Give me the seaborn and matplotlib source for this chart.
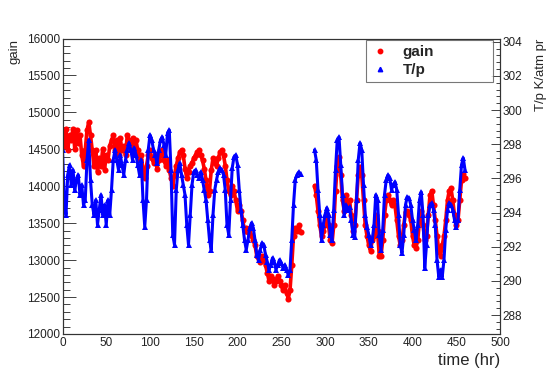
import numpy as np
import pandas as pd
import matplotlib
matplotlib.use("Agg")
import matplotlib.pyplot as plt
import seaborn as sns
from matplotlib.lines import Line2D
from matplotlib.ticker import MultipleLocator

# sampling times (hr), two runs with a gap in between
time_run1 = np.arange(0, 274, 2)
time_run2 = np.arange(288, 462, 2)

# gain
gain_run1 = [
    14760, 14550, 14780, 14490, 14690, 14620, 14780, 14510, 14760, 14590,
    14690, 14420, 14280, 14490, 14760, 14870, 14690, 14490, 14280, 14490,
    14190, 14380, 14280, 14510, 14220, 14420, 14350, 14550, 14620, 14690,
    14490, 14620, 14420, 14650, 14490, 14550, 14420, 14690, 14620, 14510,
    14650, 14550, 14620, 14490, 14350, 14420, 14220, 14110, 14280, 14420,
    14490, 14380, 14320, 14420, 14240, 14350, 14420, 14490, 14350, 14280,
    14350, 14220, 14110, 14010, 14150, 14280, 14380, 14460, 14490, 14420,
    14240, 14110, 14190, 14280, 14320, 14380, 14420, 14460, 14490, 14420,
    14350, 14240, 14080, 13880, 13940, 14220, 14380, 14320, 14280, 14380,
    14460, 14490, 14420, 14280, 14080, 13940, 13880, 14010, 13940, 13810,
    13670, 13740, 13670, 13540, 13400, 13440, 13380, 13430, 13330, 13270,
    13200, 13060, 13020, 12970, 13060, 13020, 12930, 12830, 12720, 12790,
    12750, 12660, 12720, 12790, 12720, 12660, 12590, 12660, 12560, 12480,
    12590, 12930, 13330, 13430, 13400, 13470, 13380,
]
gain_run2 = [
    14010, 13880, 13670, 13470, 13330, 13400, 13470, 13610, 13470, 13270,
    13230, 13470, 13940, 14280, 14390, 14150, 13810, 13670, 13880, 13740,
    13810, 13610, 13400, 13470, 13810, 14150, 14260, 14150, 13810, 13470,
    13330, 13200, 13130, 13270, 13330, 13610, 13400, 13060, 13060, 13270,
    13610, 13810, 13880, 13810, 13740, 13810, 13740, 13540, 13330, 13200,
    13270, 13470, 13650, 13670, 13610, 13540, 13330, 13200, 13170, 13270,
    13540, 13670, 13470, 13270, 13330, 13610, 13880, 13940, 13740, 13540,
    13330, 13130, 13060, 13200, 13330, 13540, 13810, 13940, 13970, 13810,
    13610, 13470, 13540, 13810, 14080, 14170, 14110,
]

# T/p in K/atm
tp_run1 = [
    297.67, 294.74, 293.87, 296.21, 296.79, 295.62, 296.50, 295.33, 295.91, 296.21,
    295.04, 295.62, 294.45, 294.74, 297.08, 298.25, 295.91, 294.45, 293.87, 294.74,
    293.28, 294.16, 295.04, 293.87, 294.45, 293.28, 294.74, 293.87, 295.33, 297.08,
    297.67, 297.08, 296.50, 297.38, 296.79, 296.21, 297.08, 297.67, 298.08, 297.67,
    297.08, 297.79, 297.38, 296.79, 296.21, 297.08, 294.74, 293.17, 294.74, 297.67,
    298.55, 298.25, 297.67, 297.38, 296.91, 297.67, 298.25, 298.43, 297.96, 297.38,
    298.66, 298.84, 296.50, 292.70, 292.11, 295.33, 296.50, 296.91, 296.21, 295.62,
    295.04, 293.28, 292.11, 293.87, 295.62, 296.38, 296.50, 296.21, 296.03, 296.38,
    295.91, 295.33, 294.74, 293.57, 292.40, 291.82, 293.87, 295.33, 295.91, 296.38,
    296.62, 296.50, 296.21, 295.33, 293.28, 292.70, 294.74, 296.62, 297.26, 297.38,
    296.79, 295.33, 294.16, 293.28, 292.40, 291.82, 292.40, 293.11, 293.40, 293.11,
    292.40, 291.53, 291.24, 291.82, 292.23, 292.11, 291.53, 291.12, 290.65, 290.94,
    291.35, 291.12, 290.65, 290.94, 291.24, 291.06, 290.77, 290.94, 290.65, 290.36,
    290.65, 292.40, 294.45, 295.91, 296.21, 296.38, 296.26,
]
tp_run2 = [
    297.67, 297.08, 295.33, 293.87, 292.40, 293.28, 293.87, 294.28, 293.87, 292.70,
    292.40, 294.16, 296.50, 298.25, 298.43, 296.79, 295.04, 293.87, 294.45, 294.16,
    294.33, 293.57, 292.70, 292.58, 294.74, 297.08, 298.08, 297.67, 295.62, 293.87,
    293.17, 292.70, 292.11, 292.40, 293.28, 295.04, 294.74, 292.70, 291.82, 292.99,
    295.04, 295.91, 296.21, 296.03, 295.33, 295.62, 295.80, 295.33, 293.87, 292.11,
    291.64, 292.70, 294.45, 294.92, 294.86, 294.45, 293.57, 292.99, 292.40, 293.28,
    294.74, 295.21, 293.87, 290.77, 292.11, 293.87, 294.45, 294.57, 294.16, 293.28,
    291.24, 290.24, 290.65, 290.24, 291.24, 292.99, 294.16, 294.57, 294.45, 294.16,
    293.57, 293.17, 293.57, 295.33, 296.79, 297.20, 296.50,
]

run = [1] * len(time_run1) + [2] * len(time_run2)
df_gain = pd.DataFrame({"time": np.concatenate([time_run1, time_run2]),
                        "gain": gain_run1 + gain_run2, "run": run})
df_tp = pd.DataFrame({"time": np.concatenate([time_run1, time_run2]),
                      "tp": tp_run1 + tp_run2, "run": run})

sns.set_style("white")
plt.rcParams['font.family'] = ['Liberation Sans', 'DejaVu Sans']

fig = plt.figure(figsize=(5.5, 3.74), dpi=100)
ax = fig.add_axes([62.5 / 550, 40 / 374, 437.5 / 550, 295.5 / 374])

# the logged points are dense enough to look like a band, so join them
sns.lineplot(data=df_gain, x="time", y="gain", units="run", estimator=None,
             color="red", lw=2.6, marker="o", markersize=4.4,
             markeredgewidth=0, ax=ax, legend=False)
ax2 = ax.twinx()
sns.lineplot(data=df_tp, x="time", y="tp", units="run", estimator=None,
             color="blue", lw=2.2, marker="^", markersize=4.6,
             markeredgewidth=0, ax=ax2, legend=False)

ax.set_xlim(0, 500)
ax.set_ylim(12000, 16000)
ax2.set_ylim(286.89, 304.19)

ax.xaxis.set_major_locator(MultipleLocator(50))
ax.xaxis.set_minor_locator(MultipleLocator(10))
ax.yaxis.set_major_locator(MultipleLocator(500))
ax.yaxis.set_minor_locator(MultipleLocator(100))
ax2.yaxis.set_major_locator(MultipleLocator(2))
ax2.yaxis.set_minor_locator(MultipleLocator(0.4))

tick_col = "#222222"
ax.tick_params(axis="y", which="major", direction="in", length=9.4, width=0.6,
               labelsize=8.5, pad=2, right=False, colors=tick_col)
ax.tick_params(axis="y", which="minor", direction="in", length=4.7, width=0.6,
               right=False, colors=tick_col)
ax.tick_params(axis="x", which="major", direction="in", length=6.5, width=0.6,
               labelsize=8.5, pad=2, top=False, colors=tick_col)
ax.tick_params(axis="x", which="minor", direction="in", length=3.2, width=0.6,
               top=False, colors=tick_col)
ax2.tick_params(axis="y", which="major", direction="in", length=6.5, width=0.6,
                labelsize=8.5, pad=2, left=False, colors=tick_col)
ax2.tick_params(axis="y", which="minor", direction="in", length=3.2, width=0.6,
                left=False, colors=tick_col)

for a in (ax, ax2):
    for sp in a.spines.values():
        sp.set_color("#333333")
        sp.set_linewidth(0.8)

ax.set_xlabel("time (hr)", fontsize=12, loc="right")
ax.xaxis.set_label_coords(1.0, -0.065)
ax.set_ylabel("gain", fontsize=9.5, loc="top")
ax.yaxis.set_label_coords(-0.095, 1.0)
ax2.set_ylabel("T/p K/atm pr", fontsize=9.5, loc="top")
ax2.yaxis.set_label_coords(1.08, 1.0)

handles = [
    Line2D([], [], marker="o", color="red", linestyle="none", markersize=3.2),
    Line2D([], [], marker="^", color="blue", linestyle="none", markersize=3.2),
]
leg = ax2.legend(handles, ["gain", "T/p"], loc="upper left",
                 bbox_to_anchor=(0.694, 0.852, 0.291, 0.142), mode="expand",
                 prop={"weight": "bold", "size": 11}, frameon=True,
                 fancybox=False, borderpad=0.3, handlelength=1.2,
                 handletextpad=0.9, labelspacing=0.3, borderaxespad=0)
leg.get_frame().set_edgecolor("#555555")
leg.get_frame().set_linewidth(0.8)

fig.savefig("out.png", dpi=100)
